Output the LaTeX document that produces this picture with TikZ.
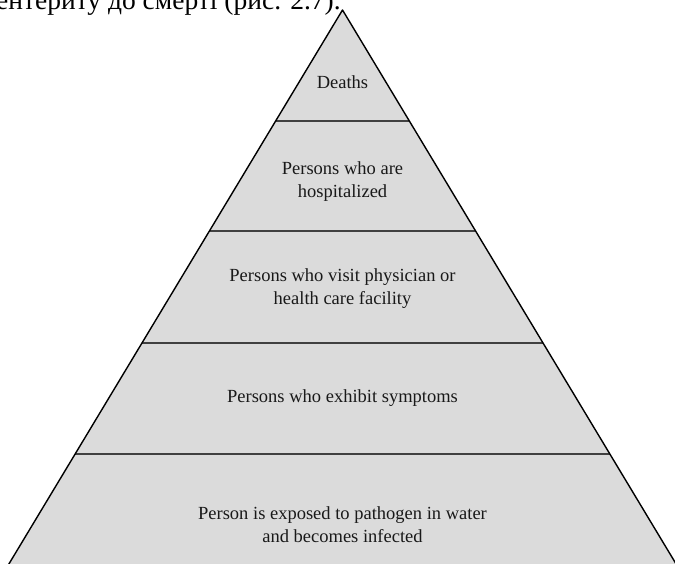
\documentclass[tikz,border=0pt]{standalone}
\usepackage{fontspec}
\setmainfont{Liberation Serif}
\usetikzlibrary{calc}

\tikzset{
  pyrfill/.style={fill=black!14, draw=none},
  pyrside/.style={draw=black, line width=1.4pt, line join=round},
  tierline/.style={draw=black!75, line width=1.8pt},
  tierlabel/.style={align=center, text=black!90,
    font=\fontsize{18.5}{23}\selectfont, inner sep=0pt},
  headline/.style={anchor=base west, inner sep=0pt,
    font=\fontsize{27.5}{32}\selectfont}
}

\begin{document}
\begin{tikzpicture}[x=1pt,y=1pt]
  \useasboundingbox (0,0) rectangle (675,564);
  \clip (0,0) rectangle (675,564);
  \fill[white] (0,0) rectangle (675,564);

  % tail of the preceding text line, cut by the page top
  \node[headline] (head) at (-4,554) {ентериту до смерті (рис. 2.7).};

  % pyramid outline
  \coordinate (apex) at (342.5,554);
  \coordinate (bl) at (10,2);
  \coordinate (br) at (675,2);
  \coordinate (blx) at (8.3,-1);
  \coordinate (brx) at (676.7,-1);

  \fill[pyrfill] (apex) -- (blx) -- (brx) -- cycle;

  % tier boundaries, as fractions of the height from the apex
  \foreach \t [count=\i] in {0.2011,0.4004,0.6033,0.8043} {
    \coordinate (L\i) at ($(apex)!\t!(bl)$);
    \coordinate (R\i) at ($(apex)!\t!(br)$);
    \draw[tierline] (L\i) -- (R\i);
  }

  \draw[pyrside] (blx) -- (apex) -- (brx);

  % tier labels
  \node[tierlabel] (deaths) at (342.5,482) {Deaths};
  \node[tierlabel] (hosp) at (342.5,382) {Persons who are\\hospitalized};
  \node[tierlabel] (visit) at (342.5,275.5) {Persons who visit physician or\\health care facility};
  \node[tierlabel] (sympt) at (342.5,166) {Persons who exhibit symptoms};
  \node[tierlabel] (expo) at (342.5,39) {Person is exposed to pathogen in water\\and becomes infected};
\end{tikzpicture}
\end{document}
